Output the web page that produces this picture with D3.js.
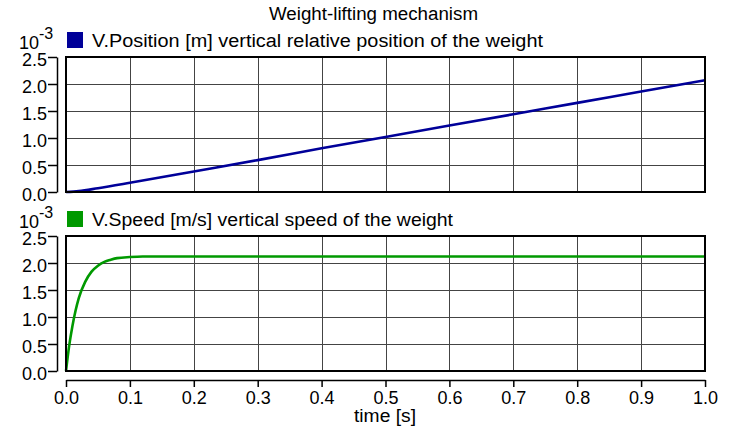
<!DOCTYPE html>
<html><head><meta charset="utf-8">
<script src="https://cdn.jsdelivr.net/npm/d3@7"></script>
<style>body{margin:0;background:#fff}svg{display:block;font-family:"Liberation Sans",Arial,sans-serif}</style>
</head><body>
<svg id="c" width="734" height="428"></svg>
<script>
const title = "Weight-lifting mechanism";
const xLabel = "time [s]";
const xTicks = [0,0.1,0.2,0.3,0.4,0.5,0.6,0.7,0.8,0.9,1.0];
const yTicks = [0,0.5,1.0,1.5,2.0,2.5];
const posT = [0,0.02,0.05,0.1,0.2,0.3,0.4,0.5,0.6,0.7,0.8,0.9,1.0];
const posV = [0,0.016,0.07,0.17,0.38,0.59,0.81,1.02,1.23,1.44,1.65,1.86,2.07];
const spdT = [0,0.005,0.01,0.015,0.02,0.03,0.04,0.05,0.06,0.07,0.08,0.1,0.12,0.15,1.0];
const spdV = [0,0.47,0.83,1.12,1.35,1.65,1.84,1.95,2.02,2.06,2.09,2.11,2.12,2.12,2.12];
const panels = [
  {label:"V.Position [m] vertical relative position of the weight", len:451, color:"#000099", t:posT, v:posV, top:57, bottom:192},
  {label:"V.Speed [m/s] vertical speed of the weight", len:361, color:"#009900", t:spdT, v:spdV, top:236, bottom:371}
];
const FS = 18;
const svg = d3.select("#c");
const L=66, R=705;
const x = d3.scaleLinear().domain([0,1]).range([L,R]);
svg.append("text").attr("x",269).attr("y",20).attr("font-size",FS)
  .attr("textLength",209).attr("lengthAdjust","spacingAndGlyphs").text(title);
panels.forEach(p=>{
  const y = d3.scaleLinear().domain([0,2.5]).range([p.bottom,p.top]);
  const g = svg.append("g");
  const px = v=>Math.round(v)+0.5;
  g.selectAll(".vg").data(xTicks.slice(1,-1)).join("line").attr("x1",d=>px(x(d))).attr("x2",d=>px(x(d)))
    .attr("y1",p.top).attr("y2",p.bottom).attr("stroke","#444").attr("stroke-width",1);
  g.selectAll(".hg").data(yTicks.slice(1,-1)).join("line").attr("y1",d=>px(y(d))).attr("y2",d=>px(y(d)))
    .attr("x1",L).attr("x2",R).attr("stroke","#444").attr("stroke-width",1);
  const data = p.t.map((t,i)=>[t,p.v[i]]);
  g.append("path").datum(data).attr("fill","none").attr("stroke",p.color).attr("stroke-width",2.6)
    .attr("d",d3.line().x(d=>x(d[0])).y(d=>y(d[1])).curve(d3.curveMonotoneX));
  g.append("rect").attr("x",L).attr("y",p.top).attr("width",R-L).attr("height",p.bottom-p.top)
    .attr("fill","none").attr("stroke","#000").attr("stroke-width",2);
  const ax = g.append("g").attr("transform","translate(57,0)")
    .call(d3.axisLeft(y).tickValues(yTicks).tickFormat(d3.format(".1f")).tickSize(9).tickPadding(1).tickSizeOuter(0));
  ax.select(".domain").attr("stroke","#000").attr("stroke-width",1.5);
  ax.selectAll(".tick line").attr("stroke-width",1.5);
  ax.selectAll("text").attr("font-size",FS).attr("font-family","Liberation Sans, Arial, sans-serif").attr("fill","#000").attr("dy","0.45em");
  const ly = p.top-10;
  const e = g.append("text").attr("x",19).attr("y",ly+2).attr("font-size",FS);
  e.append("tspan").text("10");
  e.append("tspan").attr("dy",-10).attr("font-size",16).text("-3");
  g.append("rect").attr("x",67).attr("y",ly-15).attr("width",16).attr("height",16).attr("fill",p.color);
  g.append("text").attr("x",92).attr("y",ly).attr("font-size",FS)
    .attr("textLength",p.len).attr("lengthAdjust","spacingAndGlyphs").text(p.label);
});
const xa = svg.append("g").attr("transform","translate(0,380)")
  .call(d3.axisBottom(x).tickValues(xTicks).tickFormat(d3.format(".1f")).tickSize(7).tickPadding(4).tickSizeOuter(0));
xa.select(".domain").attr("stroke","#000").attr("stroke-width",1.5);
xa.selectAll(".tick line").attr("stroke-width",1.5);
xa.selectAll("text").attr("font-size",FS).attr("font-family","Liberation Sans, Arial, sans-serif").attr("fill","#000");
svg.append("text").attr("x",354).attr("y",422).attr("font-size",FS)
  .attr("textLength",62).attr("lengthAdjust","spacingAndGlyphs").text(xLabel);
</script>
</body></html>
